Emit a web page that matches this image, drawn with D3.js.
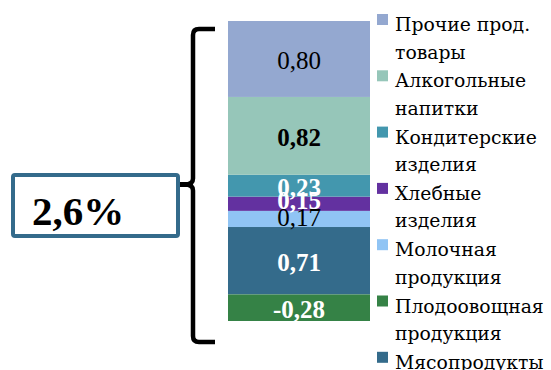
<!DOCTYPE html>
<html><head><meta charset="utf-8">
<script src="https://cdn.jsdelivr.net/npm/d3@7"></script>
<style>
html,body{margin:0;padding:0;background:#fff;}
svg{display:block;}
text{font-family:"DejaVu Serif",serif;}
.lbl{font-family:"Liberation Serif","Times New Roman",serif;}
</style></head>
<body>
<script>
// Data (stack order bottom -> top)
const series = ["Мясопродукты","Плодоовощная продукция","Молочная продукция","Хлебные изделия","Кондитерские изделия","Алкогольные напитки","Прочие прод. товары"];
const values = [0.71, -0.28, 0.17, 0.15, 0.23, 0.82, 0.80];
const colors = ["#346B8B","#358246","#90C4F4","#6331A0","#4397AE","#96C6B9","#94A8D0"];
const legendOrder = ["Прочие прод. товары","Алкогольные напитки","Кондитерские изделия","Хлебные изделия","Молочная продукция","Плодоовощная продукция","Мясопродукты"];
const legendLines = [["Прочие прод.","товары"],["Алкогольные","напитки"],["Кондитерские","изделия"],["Хлебные","изделия"],["Молочная","продукция"],["Плодоовощная","продукция"],["Мясопродукты"]];
const totalLabel = "2,6%";

const labelStyle = {
  "Мясопродукты":{bold:true,fill:"#fff",dy:0},
  "Плодоовощная продукция":{bold:true,fill:"#fff",dy:0},
  "Молочная продукция":{bold:false,fill:"#000",dy:-3},
  "Хлебные изделия":{bold:true,fill:"#fff",dy:-4.5},
  "Кондитерские изделия":{bold:true,fill:"#fff",dy:0},
  "Алкогольные напитки":{bold:true,fill:"#000",dy:0},
  "Прочие прод. товары":{bold:false,fill:"#000",dy:0}
};

(function(){
const W=551,H=370;
const svg=d3.select("body").append("svg").attr("width",W).attr("height",H);

const row={cat:"all"};
series.forEach((s,i)=>row[s]=values[i]);
const stacked=d3.stack().keys(series).offset(d3.stackOffsetDiverging)([row]);

const x=d3.scaleBand().domain(["all"]).range([228,370]).padding(0);
const y=d3.scaleLinear().domain([-0.28,2.88]).range([321,21]);
const color=d3.scaleOrdinal().domain(series).range(colors);
const fmt=v=>d3.format(".2f")(v).replace(".",",").replace("−","-");

const g=svg.append("g");
stacked.forEach(layer=>{
  const d=layer[0];
  const y0=y(Math.max(d[0],d[1])), y1=y(Math.min(d[0],d[1]));
  g.append("rect").attr("x",x("all")).attr("width",x.bandwidth())
    .attr("y",y0).attr("height",y1-y0).attr("fill",color(layer.key));
});
stacked.forEach((layer,i)=>{
  const d=layer[0];
  const cy=y((d[0]+d[1])/2);
  const st=labelStyle[layer.key];
  g.append("text").attr("class","lbl").attr("x",x("all")+x.bandwidth()/2).attr("y",cy+10+st.dy)
    .attr("text-anchor","middle").attr("font-size",25)
    .attr("font-weight",st.bold?"bold":"normal").attr("fill",st.fill)
    .text(fmt(values[i]));
});

// Legend
const lg=svg.append("g");
legendOrder.forEach((s,i)=>{
  const ty=14+i*56.3;
  lg.append("rect").attr("x",377).attr("y",ty).attr("width",11).attr("height",11).attr("fill",color(s));
  legendLines[i].forEach((ln,j)=>{
    lg.append("text").attr("x",395).attr("y",ty+17+j*27.5).attr("font-size",18.8).attr("fill","#000").text(ln);
  });
});

// Brace
const bx=193, bTop=y(2.88)+8, bBot=y(-0.28)+21, mid=184.5;
const p=d3.path();
p.moveTo(215,bTop); p.lineTo(bx+6,bTop); p.quadraticCurveTo(bx,bTop,bx,bTop+6);
p.lineTo(bx,mid-6); p.quadraticCurveTo(bx,mid,bx-8,mid);
p.moveTo(bx-8,mid); p.quadraticCurveTo(bx,mid,bx,mid+6);
p.lineTo(bx,bBot-6); p.quadraticCurveTo(bx,bBot,bx+6,bBot); p.lineTo(215,bBot);
svg.append("path").attr("d",p.toString()).attr("fill","none").attr("stroke","#000").attr("stroke-width",4.5);
svg.append("line").attr("x1",178).attr("x2",bx).attr("y1",mid).attr("y2",mid).attr("stroke","#000").attr("stroke-width",5);

// Total box
svg.append("rect").attr("x",13).attr("y",175).attr("width",165).attr("height",61).attr("rx",2)
  .attr("fill","#fff").attr("stroke","#346B8B").attr("stroke-width",4);
svg.append("text").attr("class","lbl").attr("x",32).attr("y",225).attr("font-size",41).attr("font-weight","bold").attr("fill","#000").text(totalLabel);
})();
</script>
</body></html>
